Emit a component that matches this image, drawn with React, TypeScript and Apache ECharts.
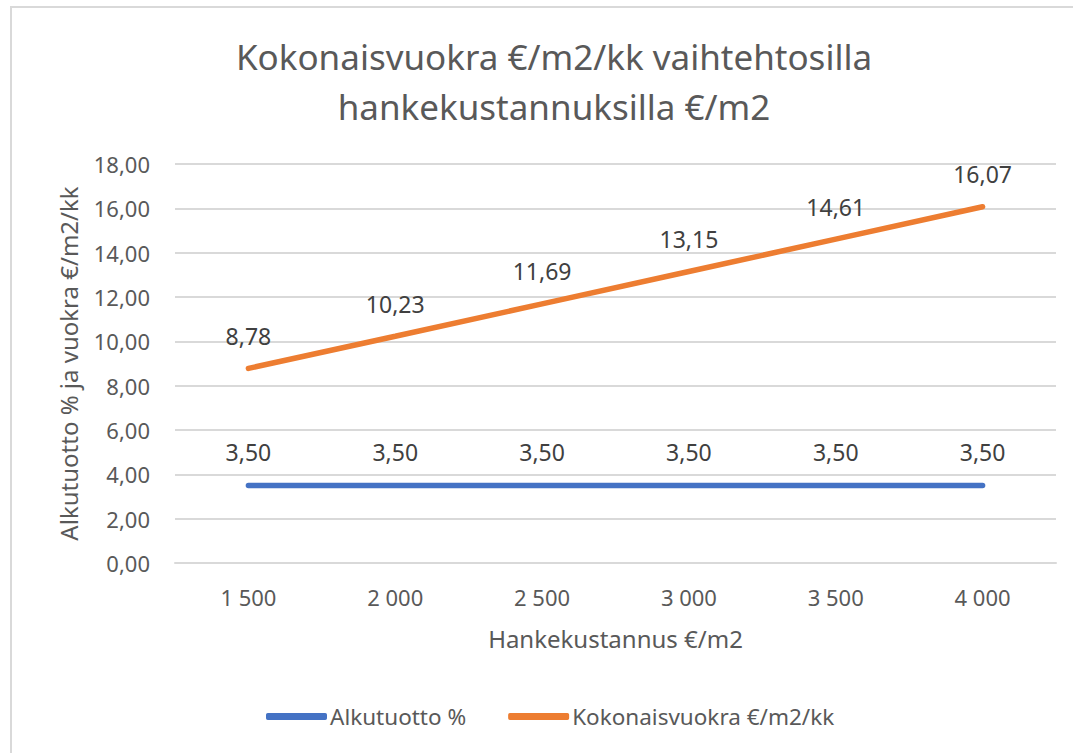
import React, { useEffect, useRef } from "react";
import * as echarts from "echarts";

const categories = ["1 500", "2 000", "2 500", "3 000", "3 500", "4 000"];
const alkutuotto = [3.5, 3.5, 3.5, 3.5, 3.5, 3.5];
const kokonaisvuokra = [8.78, 10.23, 11.69, 13.15, 14.61, 16.07];
const titleLines = ["Kokonaisvuokra €/m2/kk vaihtehtosilla", "hankekustannuksilla €/m2"];
const seriesNames = ["Alkutuotto %", "Kokonaisvuokra €/m2/kk"];
const yAxisName = "Alkutuotto % ja vuokra €/m2/kk";
const xAxisName = "Hankekustannus €/m2";

const FONT = "'Noto Sans', 'Open Sans', sans-serif";
const fmt = (v: number) => v.toFixed(2).replace(".", ",");

export default function App() {
  const ref = useRef<HTMLDivElement>(null);
  useEffect(() => {
    if (!ref.current) return;
    const chart = echarts.init(ref.current, undefined, { renderer: "svg" });
    chart.setOption({
      animation: false,
      backgroundColor: "#ffffff",
      textStyle: { fontFamily: FONT },
      title: {
        text: titleLines.join("\n"),
        left: 549,
        top: 26,
        textAlign: "center",
        textStyle: { fontFamily: FONT, fontSize: 35, fontWeight: "normal", color: "#595959", lineHeight: 50 },
      },
      graphic: [
        {
          type: "rect",
          shape: { x: 11, y: 7, width: 1100, height: 800 },
          style: { fill: "none", stroke: "#d9d9d9", lineWidth: 2 },
          silent: true,
          z: -1,
        },
      ],
      legend: {
        top: 705,
        left: 266,
        padding: 0,
        itemWidth: 61,
        itemHeight: 7,
        itemGap: 42,
        icon: "roundRect",
        textStyle: { fontFamily: FONT, fontSize: 22.5, color: "#595959", padding: [0, 0, 0, -2] },
        data: seriesNames,
      },
      grid: { left: 175, right: 17, top: 164, bottom: 190 },
      xAxis: {
        type: "category",
        data: categories,
        boundaryGap: true,
        name: xAxisName,
        nameLocation: "middle",
        nameGap: 63,
        nameTextStyle: { fontFamily: FONT, fontSize: 24, color: "#595959" },
        axisLine: { lineStyle: { color: "#d9d9d9", width: 2 } },
        axisTick: { show: false },
        axisLabel: { fontFamily: FONT, fontSize: 22, color: "#595959", margin: 23 },
      },
      yAxis: {
        type: "value",
        min: 0,
        max: 18,
        interval: 2,
        name: yAxisName,
        nameLocation: "middle",
        nameGap: 95,
        nameTextStyle: { fontFamily: FONT, fontSize: 24, color: "#595959" },
        axisLine: { show: false },
        axisTick: { show: false },
        splitLine: { lineStyle: { color: "#d9d9d9", width: 2 } },
        axisLabel: { fontFamily: FONT, fontSize: 22, color: "#595959", margin: 25, formatter: (v: number) => fmt(v) },
      },
      series: [
        {
          name: seriesNames[0],
          type: "line",
          data: alkutuotto,
          color: "#4472C4",
          symbol: "circle",
          symbolSize: 0,
          showSymbol: true,
          lineStyle: { width: 5.5, cap: "round", color: "#4472C4" },
          label: {
            show: true,
            position: "top",
            distance: 22,
            fontFamily: FONT,
            fontSize: 23,
            color: "#404040",
            formatter: (p: any) => fmt(p.value),
          },
        },
        {
          name: seriesNames[1],
          type: "line",
          data: kokonaisvuokra,
          color: "#ED7D31",
          symbol: "circle",
          symbolSize: 0,
          showSymbol: true,
          lineStyle: { width: 5.5, cap: "round", color: "#ED7D31" },
          label: {
            show: true,
            position: "top",
            distance: 21,
            fontFamily: FONT,
            fontSize: 23,
            color: "#404040",
            formatter: (p: any) => fmt(p.value),
          },
        },
      ],
    });
    return () => chart.dispose();
  }, []);
  return (
    <div
      ref={ref}
      style={{ position: "fixed", left: 0, top: 0, width: 1073, height: 753 }}
    />
  );
}
